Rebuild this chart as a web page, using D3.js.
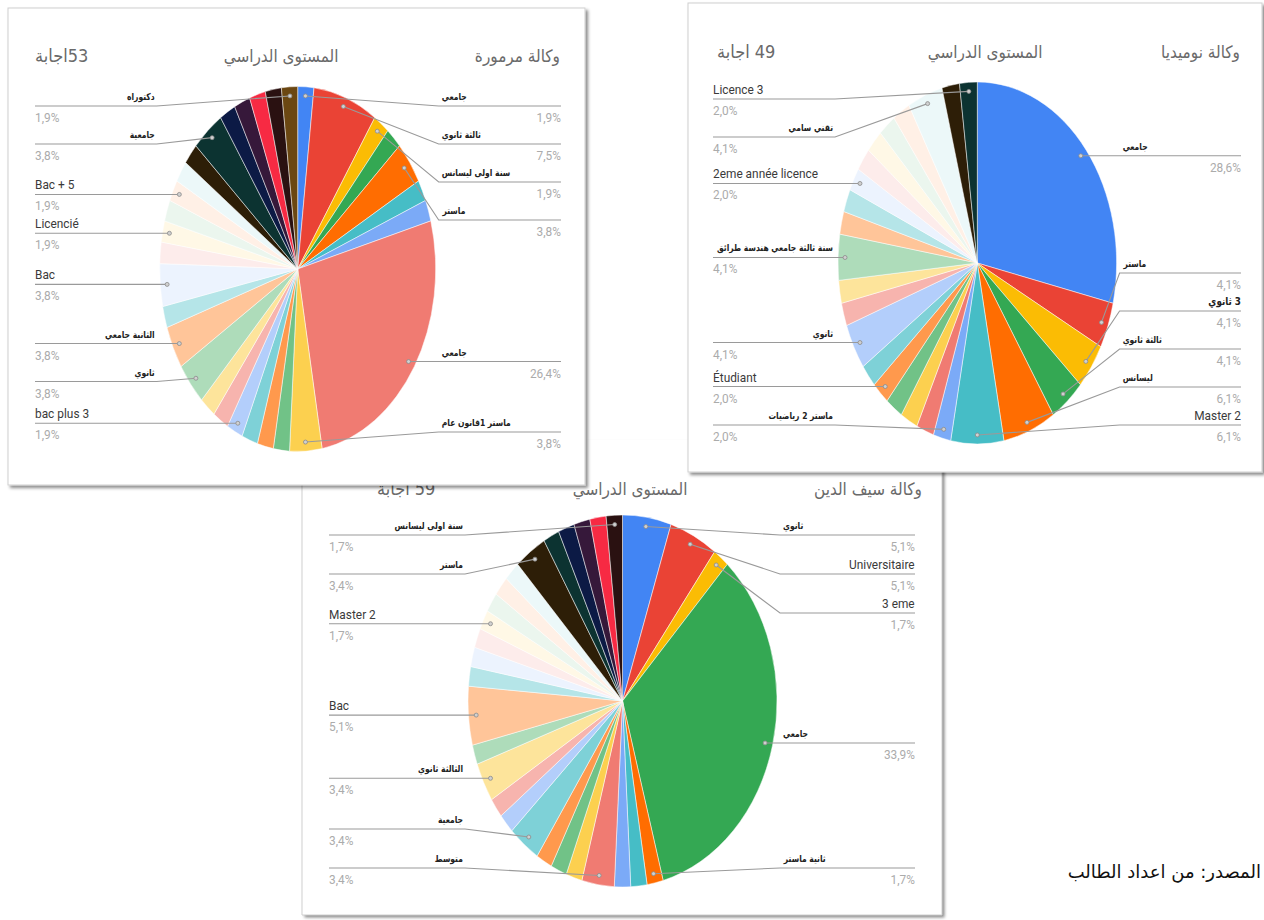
<!DOCTYPE html>
<html>
<head>
<meta charset="utf-8">
<script src="https://cdn.jsdelivr.net/npm/d3@7"></script>
<style>
  body { margin: 0; background: #fff; }
  svg { display: block; }
</style>
</head>
<body>
<svg id="chart" width="1264" height="920"></svg>
<script>
// slice counts, in the order the form drew them (clockwise from 12 o'clock)
var marmouraCounts = [1, 4, 1, 1, 2, 1, 1, 14, 2, 1, 1, 1, 1, 1, 1, 2, 2, 1, 2, 1, 1, 1, 1, 1, 1, 2, 1, 1, 1, 1, 1];
var marmouraLabels = ["جامعي", "ثالثة ثانوي", "سنة اولى ليسانس", "", "ماستر", "", "", "جامعي", "ماستر 1قانون عام", "", "", "",
  "bac plus 3", "", "", "ثانوي", "الثانية جامعي", "", "Bac", "", "Licencié", "", "Bac + 5", "", "", "جامعية", "", "", "", "", "دكتوراه"];

var numidiaCounts = [14, 2, 2, 2, 3, 3, 1, 1, 1, 1, 1, 1, 2, 1, 1, 2, 1, 1, 1, 1, 1, 1, 1, 2, 1, 1];
var numidiaLabels = ["جامعي", "ماستر", "3 ثانوي", "ثالثة ثانوي", "ليسانس", "Master 2", "ماستر 2 رياضيات", "", "", "",
  "Étudiant", "", "ثانوي", "", "", "سنة ثالثة جامعي هندسة طرائق", "", "", "2eme année licence", "", "", "", "", "تقني سامي", "", "Licence 3"];

var saifCounts = [3, 3, 1, 20, 1, 1, 1, 2, 1, 1, 1, 2, 1, 1, 2, 1, 3, 1, 1, 1, 1, 1, 1, 1, 2, 1, 1, 1, 1, 1];
var saifLabels = ["ثانوي", "Universitaire", "3 eme", "جامعي", "ثانية ماستر", "", "", "متوسط", "", "", "", "جامعية", "", "",
  "الثالثة ثانوي", "", "Bac", "", "", "", "Master 2", "", "", "", "ماستر", "", "", "", "", "سنة اولى ليسانس"];

var levelTitle = "المستوى الدراسي";
var caption = "المصدر:  من اعداد الطالب";

// slice colours (form default series)
var palette = ["#4285f4", "#ea4335", "#fbbc04", "#34a853", "#ff6d01", "#46bdc6", "#7baaf7", "#f07b72",
  "#fcd04f", "#71c287", "#ff994d", "#7ed1d7", "#b3cefb", "#f7b4ae", "#fde49b", "#aedcba",
  "#ffc599", "#b5e5e8", "#ecf3fe", "#fdeceb", "#fff8e6", "#ebf6ee", "#fff0e6", "#ecf8f9",
  "#2d1e07", "#0c3331", "#0c1a45", "#36183a", "#f72a43", "#2a1111", "#6b4712"];

// panel layout (screen positions, not data)
var panels = [
  { counts: saifCounts, labels: saifLabels, agency: "وكالة سيف الدين", responses: "59 اجابة",
    box: [302, 440, 640, 475], noTop: true, cx: 622.5, cy: 701, rx: 154.5, ry: 186,
    titleY: 495, agencyX: 922, levelX: 630, respX: 377,
    edgeL: 329, edgeR: 915, minY: 535, maxY: 868, gap: 39 },
  { counts: marmouraCounts, labels: marmouraLabels, agency: "وكالة مرمورة", responses: "53اجابة",
    box: [8, 8, 577, 477], cx: 297.7, cy: 269, rx: 138, ry: 182.5,
    titleY: 62, agencyX: 560, levelX: 281, respX: 35,
    edgeL: 35, edgeR: 561, minY: 106, maxY: 432, gap: 38 },
  { counts: numidiaCounts, labels: numidiaLabels, agency: "وكالة نوميديا", responses: "49 اجابة",
    box: [688, 3, 574, 469], cx: 977.3, cy: 263, rx: 139.3, ry: 181,
    titleY: 58, agencyX: 1240, levelX: 985, respX: 717,
    edgeL: 713, edgeR: 1241, minY: 99, maxY: 425, gap: 38 }
];

var svg = d3.select("#chart");
var defs = svg.append("defs");
var filt = defs.append("filter").attr("id", "shadow")
  .attr("x", "-3%").attr("y", "-3%").attr("width", "108%").attr("height", "108%");
filt.append("feDropShadow").attr("dx", 2.5).attr("dy", 2.5).attr("stdDeviation", 1.8)
  .attr("flood-color", "#000").attr("flood-opacity", 0.45);

var arabic = /[\u0600-\u06FF]/;

// put a text so that its left / right / centre lands on x (measured, works for rtl too)
function placeText(g, str, o) {
  var t = g.append("text")
    .attr("font-family", o.family)
    .attr("font-size", o.size)
    .attr("font-weight", o.weight || "normal")
    .attr("fill", o.fill)
    .text(str);
  if (arabic.test(str)) t.attr("direction", "rtl");
  var bb = t.node().getBBox();
  var sx = o.sx || 1;
  var tx;
  if (o.align == "right") tx = o.x - (bb.x + bb.width) * sx;
  else if (o.align == "center") tx = o.x - (bb.x + bb.width / 2) * sx;
  else tx = o.x - bb.x * sx;
  t.attr("transform", "translate(" + tx + "," + o.y + ") scale(" + sx + ",1)");
  return t;
}

function fmtPct(v, total) {
  return (v / total * 100).toFixed(1).replace(".", ",") + "%";
}

function drawPanel(p) {
  var g = svg.append("g");
  var b = p.box;
  g.append("rect")
    .attr("x", b[0]).attr("y", b[1])
    .attr("width", b[2]).attr("height", b[3])
    .attr("fill", "#fff")
    .attr("stroke", p.noTop ? "none" : "#cfcfcf").attr("stroke-width", 1)
    .attr("filter", "url(#shadow)");
  if (p.noTop) {
    g.append("path")
      .attr("d", "M" + b[0] + "," + b[1] + "V" + (b[1] + b[3]) + "H" + (b[0] + b[2]) + "V" + b[1])
      .attr("fill", "none").attr("stroke", "#cfcfcf");
  }

  // titles
  var tt = { family: "DejaVu Sans", size: 17, fill: "#6a6a6a", sx: 0.9 };
  placeText(g, p.agency, Object.assign({ x: p.agencyX, y: p.titleY, align: "right" }, tt));
  placeText(g, levelTitle, Object.assign({ x: p.levelX, y: p.titleY, align: "center" }, tt));
  placeText(g, p.responses, Object.assign({ x: p.respX, y: p.titleY, align: "left" }, tt, { size: 18 }));

  var total = d3.sum(p.counts);
  var arcs = d3.pie().sort(null).value(function (d) { return d; })(p.counts);
  var R = 100;
  var arc = d3.arc().innerRadius(0).outerRadius(R);

  // the form squeezed the pie into an ellipse
  var pg = g.append("g")
    .attr("transform", "translate(" + p.cx + "," + p.cy + ") scale(" + (p.rx / R) + "," + (p.ry / R) + ")");
  pg.selectAll("path").data(arcs).join("path")
    .attr("d", arc)
    .attr("fill", function (d, i) { return palette[i]; })
    .attr("stroke", "#fff").attr("stroke-width", 0.5)
    .attr("vector-effect", "non-scaling-stroke");

  // labelled slices
  var items = arcs.map(function (d, i) {
    var mid = (d.startAngle + d.endAngle) / 2;
    return {
      name: p.labels[i], value: d.value, mid: mid,
      dx: p.cx + 0.95 * Math.sin(mid) * p.rx,
      dy: p.cy - 0.95 * Math.cos(mid) * p.ry,
      right: mid < Math.PI + 0.01
    };
  }).filter(function (d) { return d.name; });

  // stack the label rows: push down, then pull back up from the bottom limit
  [true, false].forEach(function (side) {
    var list = items.filter(function (d) { return d.right == side; })
      .sort(function (a, b) { return a.dy - b.dy; });
    var prev = -Infinity;
    list.forEach(function (d) { d.ly = Math.max(d.dy, p.minY, prev + p.gap); prev = d.ly; });
    var next = Infinity;
    for (var k = list.length - 1; k >= 0; k--) {
      list[k].ly = Math.min(list[k].ly, p.maxY, next - p.gap);
      next = list[k].ly;
    }
  });

  items.forEach(function (d) {
    var bend = d.right ? p.cx + p.rx + 3 : p.cx - p.rx - 3;
    var edge = d.right ? p.edgeR : p.edgeL;
    g.append("path")
      .attr("d", "M" + d.dx + "," + d.dy + "L" + bend + "," + d.ly + "L" + edge + "," + d.ly)
      .attr("fill", "none").attr("stroke", "#9a9a9a").attr("stroke-width", 1.1);
    g.append("circle").attr("cx", d.dx).attr("cy", d.dy).attr("r", 2)
      .attr("fill", "#d0d0d0").attr("stroke", "#8a8a8a").attr("stroke-width", 0.8);

    var latin = /^[A-Za-z0-9\u00C0-\u00FF]/.test(d.name);
    var nx, al;
    if (d.right) { if (latin) { nx = p.edgeR; al = "right"; } else { nx = bend + 3; al = "left"; } }
    else { if (latin) { nx = p.edgeL; al = "left"; } else { nx = bend - 2; al = "right"; } }
    if (arabic.test(d.name)) {
      placeText(g, d.name, { x: nx, y: d.ly - 6, align: al, family: "DejaVu Sans", size: latin ? 11 : 9.5, weight: "bold", fill: "#222", sx: 0.8 });
    } else {
      placeText(g, d.name, { x: nx, y: d.ly - 5, align: al, family: "Roboto", size: 12.5, fill: "#3a3a3a", sx: 0.95 });
    }
    placeText(g, fmtPct(d.value, total), { x: edge, y: d.ly + 16, align: d.right ? "right" : "left", family: "Roboto", size: 12.5, fill: "#ababab", sx: 0.95 });
  });
}

panels.forEach(drawPanel);

// source line, kept whole against the right edge
placeText(svg, caption, { x: 1261, y: 878, align: "right", family: "DejaVu Sans", size: 18, fill: "#111", sx: 1 });
</script>
</body>
</html>
